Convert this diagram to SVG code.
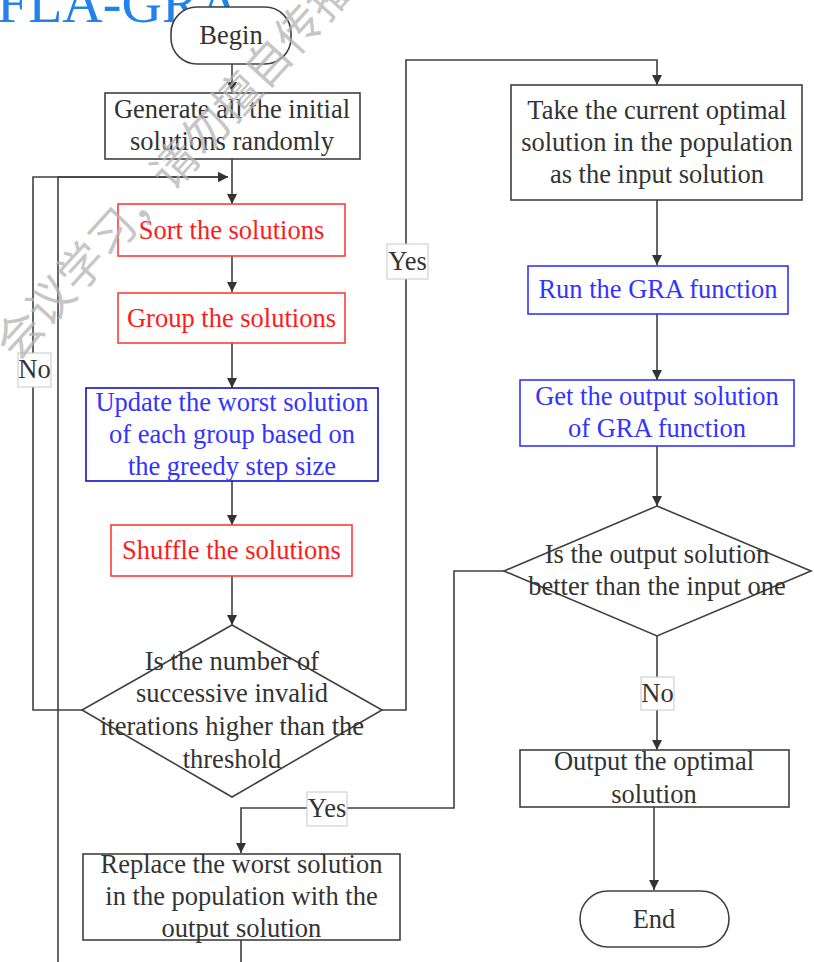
<svg xmlns="http://www.w3.org/2000/svg" width="814" height="962" viewBox="0 0 814 962">
  <style>
    text { font-family: "Liberation Serif", Tinos, "Times New Roman", Times, serif; font-size: 26.5px; fill: #333333; text-anchor: middle; }
    .box { fill: #ffffff; stroke: #404040; stroke-width: 1.6; }
    .red { fill: #ffffff; stroke: #ff3b3b; stroke-width: 1.6; }
    .blue { fill: #ffffff; stroke: #3333ff; stroke-width: 1.6; }
    .dblue { fill: #ffffff; stroke: #1010c8; stroke-width: 1.6; }
    .rt { fill: #ff1a1a; }
    .bt { fill: #3333ff; }
    .edge { fill: none; stroke: #404040; stroke-width: 1.6; }
    .lbl { fill: #ffffff; stroke: #c8c8c8; stroke-width: 1; }
    .title { font-size: 56px; fill: #2282ea; text-anchor: start; }
    .wm { font-family: "Noto Sans CJK SC", sans-serif; font-size: 46px; fill: #b4b4b4; fill-opacity: 0.75; text-anchor: start; }
  </style>
  <defs>
    <marker id="arrow" viewBox="0 0 10 10" refX="10" refY="5" markerWidth="10" markerHeight="10" markerUnits="userSpaceOnUse" orient="auto">
      <path d="M0,0 L10,5 L0,10 Z" fill="#333333"/>
    </marker>
  </defs>

  <rect width="814" height="962" fill="#ffffff"/>

  <text class="title" x="-3" y="22">FLA-GRA</text>

  <!-- connectors -->
  <g id="connectors">
    <path class="edge" d="M232,64 V92" marker-end="url(#arrow)"/>
    <path class="edge" d="M232,159 V204" marker-end="url(#arrow)"/>
    <path class="edge" d="M232,256 V292" marker-end="url(#arrow)"/>
    <path class="edge" d="M232,343 V388" marker-end="url(#arrow)"/>
    <path class="edge" d="M232,481 V525" marker-end="url(#arrow)"/>
    <path class="edge" d="M232,576 V625" marker-end="url(#arrow)"/>
    <!-- loop back when not above threshold -->
    <path class="edge" d="M82,710 H33 V177 H228" marker-end="url(#arrow)"/>
    <!-- loop back after replacing the worst solution -->
    <path class="edge" d="M241,940 V975 M58,975 V177 H228" marker-end="url(#arrow)"/>
    <!-- yes: go to GRA branch -->
    <path class="edge" d="M382,710 H406 V60 H657 V85" marker-end="url(#arrow)"/>
    <path class="edge" d="M657,200 V265" marker-end="url(#arrow)"/>
    <path class="edge" d="M657,314 V380" marker-end="url(#arrow)"/>
    <path class="edge" d="M657,446 V506" marker-end="url(#arrow)"/>
    <!-- better: replace worst solution -->
    <path class="edge" d="M504,571 H454 V808 H241 V853" marker-end="url(#arrow)"/>
    <path class="edge" d="M657,636 V750" marker-end="url(#arrow)"/>
    <path class="edge" d="M654,807 V890" marker-end="url(#arrow)"/>

    <rect class="lbl" x="18" y="353" width="33" height="34"/>
    <text x="34.5" y="378">No</text>
    <rect class="lbl" x="387" y="244" width="41" height="35"/>
    <text x="407.5" y="270">Yes</text>
    <rect class="lbl" x="307" y="792" width="40" height="34"/>
    <text x="327" y="817">Yes</text>
    <rect class="lbl" x="641" y="677" width="33" height="33"/>
    <text x="657.5" y="702">No</text>
  </g>

  <!-- nodes -->
  <g id="begin">
    <rect class="box" x="171" y="7" width="120" height="57" rx="26"/>
    <text x="231" y="44">Begin</text>
  </g>
  <g id="generate">
    <rect class="box" x="105" y="93" width="255" height="66"/>
    <text x="232" y="118">Generate all the initial</text>
    <text x="232" y="150">solutions randomly</text>
  </g>
  <g id="sort">
    <rect class="red" x="118" y="204" width="227" height="52"/>
    <text class="rt" x="231.5" y="239">Sort the solutions</text>
  </g>
  <g id="group">
    <rect class="red" x="118" y="293" width="227" height="50"/>
    <text class="rt" x="231.5" y="327">Group the solutions</text>
  </g>
  <g id="update">
    <rect class="dblue" x="86" y="388" width="292" height="93"/>
    <text class="bt" x="232" y="411">Update the worst solution</text>
    <text class="bt" x="232" y="443">of each group based on</text>
    <text class="bt" x="232" y="475">the greedy step size</text>
  </g>
  <g id="shuffle">
    <rect class="red" x="111" y="525" width="241" height="51"/>
    <text class="rt" x="231.5" y="559">Shuffle the solutions</text>
  </g>
  <g id="threshold">
    <polygon class="box" points="232,625 382,710 232,797 82,710" style="fill:none"/>
    <text x="232" y="670">Is the number of</text>
    <text x="232" y="702">successive invalid</text>
    <text x="232" y="735">iterations higher than the</text>
    <text x="232" y="768">threshold</text>
  </g>
  <g id="replace">
    <rect class="box" x="83" y="854" width="317" height="86" style="fill:none"/>
    <text x="241.5" y="873">Replace the worst solution</text>
    <text x="241.5" y="905">in the population with the</text>
    <text x="241.5" y="937">output solution</text>
  </g>
  <g id="take">
    <rect class="box" x="511" y="85" width="291" height="115"/>
    <text x="657" y="119">Take the current optimal</text>
    <text x="657" y="151">solution in the population</text>
    <text x="657" y="183">as the input solution</text>
  </g>
  <g id="run">
    <rect class="blue" x="528" y="266" width="260" height="48"/>
    <text class="bt" x="658" y="298">Run the GRA function</text>
  </g>
  <g id="get">
    <rect class="blue" x="520" y="380" width="274" height="66"/>
    <text class="bt" x="657" y="405">Get the output solution</text>
    <text class="bt" x="657" y="437">of GRA function</text>
  </g>
  <g id="better">
    <polygon class="box" points="657,506 811,571 657,636 504,571" style="fill:none"/>
    <text x="657" y="563">Is the output solution</text>
    <text x="657" y="595">better than the input one</text>
  </g>
  <g id="output">
    <rect class="box" x="520" y="750" width="269" height="57" style="fill:none"/>
    <text x="654" y="770">Output the optimal</text>
    <text x="654" y="803">solution</text>
  </g>
  <g id="end">
    <rect class="box" x="580" y="891" width="149" height="56" rx="28"/>
    <text x="654" y="928">End</text>
  </g>

  <!-- faint diagonal watermark -->
  <text class="wm" transform="translate(20,335) rotate(-47.6)" x="-23" y="16">会议学习，请勿擅自传播</text>
</svg>
